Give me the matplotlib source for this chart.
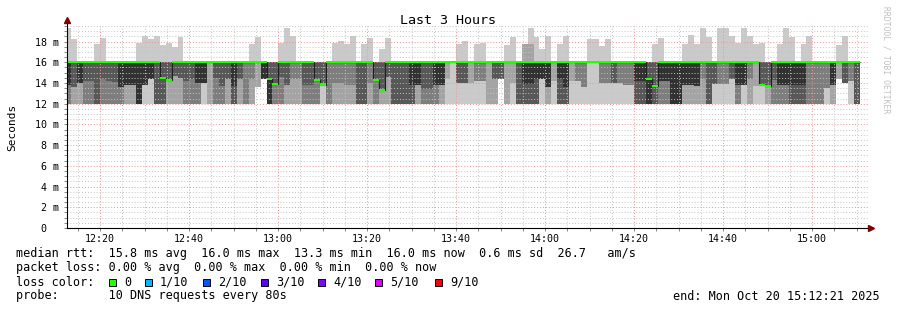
import numpy as np
import matplotlib.pyplot as plt
from matplotlib.ticker import MultipleLocator, FuncFormatter
from matplotlib.patches import Rectangle

plt.rcParams['font.family'] = 'DejaVu Sans Mono'

# SmokePing DNS probe, one value every 80 s, all values in ms
step_s = 80
first_step_end = 44005          # 12:13:25 (seconds since midnight)
view_start, view_end = 43955, 54755   # 12:12:35 .. 15:12:35

# highest ping of each step
top_ms = [
    19.3, 18.2, 16.0, 16.0, 16.0, 17.8, 18.35, 16.0, 16.0, 16.0,
    16.0, 16.0, 17.9, 18.5, 18.25, 18.5, 17.7, 17.9, 17.5, 18.4,
    16.0, 16.0, 16.0, 16.0, 16.0, 16.0, 16.0, 16.0, 16.0, 16.0,
    16.0, 17.8, 18.4, 16.0, 16.0, 16.0, 17.9, 19.3, 18.5, 16.0,
    16.0, 16.0, 16.0, 16.0, 16.0, 17.9, 18.1, 17.8, 18.5, 16.0,
    17.8, 18.35, 16.0, 17.3, 18.35, 16.0, 16.0, 16.0, 16.0, 16.0,
    16.0, 16.0, 16.0, 16.0, 16.0, 16.0, 17.8, 18.1, 16.0, 17.8,
    17.9, 16.0, 16.0, 16.0, 17.7, 18.4, 16.0, 17.8, 19.3, 18.4,
    17.3, 18.5, 16.0, 17.8, 18.5, 16.0, 16.0, 16.0, 18.2, 18.2,
    17.6, 18.2, 16.0, 16.0, 16.0, 16.0, 16.0, 16.0, 16.0, 17.8,
    18.3, 16.0, 16.0, 16.0, 17.8, 18.6, 17.8, 19.3, 18.4, 16.0,
    19.3, 19.3, 18.5, 17.9, 19.3, 18.5, 17.8, 17.9, 16.0, 16.0,
    17.8, 19.3, 18.4, 16.0, 17.8, 18.5, 16.0, 16.0, 16.0, 16.0,
    17.7, 18.5, 16.0, 16.0,
]

# second highest ping (start of the light top smoke)
upper9_ms = [16.0] * 77 + [17.8, 17.8] + [16.0] * 55

median_ms = [
    16.0, 16.0, 16.0, 16.0, 16.0, 16.0, 16.0, 16.0, 16.0, 16.0,
    16.0, 16.0, 16.0, 16.0, 16.0, 16.0, 14.5, 14.3, 16.0, 16.0,
    16.0, 16.0, 16.0, 16.0, 16.0, 16.0, 16.0, 16.0, 16.0, 16.0,
    16.0, 16.0, 16.0, 16.0, 14.4, 13.9, 16.0, 16.0, 16.0, 16.0,
    16.0, 16.0, 14.3, 13.85, 16.0, 16.0, 16.0, 16.0, 16.0, 16.0,
    16.0, 16.0, 14.3, 13.3, 16.0, 16.0, 16.0, 16.0, 16.0, 16.0,
    16.0, 16.0, 16.0, 16.0, 16.0, 16.0, 16.0, 16.0, 16.0, 16.0,
    16.0, 16.0, 16.0, 16.0, 16.0, 16.0, 16.0, 16.0, 16.0, 16.0,
    16.0, 16.0, 16.0, 16.0, 16.0, 16.0, 16.0, 16.0, 16.0, 16.0,
    16.0, 16.0, 16.0, 16.0, 16.0, 16.0, 16.0, 16.0, 14.4, 13.7,
    16.0, 16.0, 16.0, 16.0, 16.0, 16.0, 16.0, 16.0, 16.0, 16.0,
    16.0, 16.0, 16.0, 16.0, 16.0, 16.0, 16.0, 13.8, 13.7, 16.0,
    16.0, 16.0, 16.0, 16.0, 16.0, 16.0, 16.0, 16.0, 16.0, 16.0,
    16.0, 16.0, 16.0, 16.0,
]

# where the smoke below 16 ms changes shade
split_ms = [
    13.8, 13.6, 14.0, 14.2, 14.2, 12.0, 14.4, 14.2, 14.1, 13.6,
    13.8, 13.8, 12.0, 13.8, 14.4, 12.0, 14.5, 14.3, 14.7, 14.5,
    14.2, 14.4, 14.0, 14.0, 12.0, 14.5, 13.7, 14.4, 13.7, 14.4,
    12.0, 14.4, 13.6, 14.4, 14.4, 13.9, 14.6, 13.8, 14.4, 14.4,
    13.8, 13.8, 14.3, 13.85, 12.0, 14.0, 14.0, 13.8, 13.8, 12.0,
    12.0, 14.0, 14.3, 13.3, 14.6, 12.0, 12.0, 12.0, 13.8, 13.8,
    13.4, 13.4, 13.8, 13.8, 14.4, 12.0, 14.0, 14.0, 14.0, 14.2,
    14.2, 12.0, 14.4, 14.4, 12.0, 14.0, 12.0, 13.9, 13.9, 14.4,
    14.4, 13.6, 14.2, 14.4, 13.6, 14.2, 14.2, 13.6, 12.0, 14.4,
    14.0, 14.0, 14.0, 14.0, 13.8, 13.8, 14.2, 14.2, 14.4, 13.7,
    14.2, 14.2, 12.0, 12.0, 13.8, 13.8, 13.7, 14.4, 12.0, 13.9,
    13.9, 13.9, 14.4, 13.8, 13.8, 14.4, 13.7, 13.8, 13.7, 14.3,
    13.8, 13.8, 13.8, 13.8, 13.8, 12.0, 12.0, 12.0, 13.5, 13.8,
    14.4, 14.0, 14.2, 12.0,
]

# lowest ping of each step
low_ms = [
    12.0, 12.0, 12.0, 12.0, 12.0, 12.0, 12.0, 12.0, 12.0, 12.0,
    12.0, 12.0, 12.0, 12.0, 12.0, 12.0, 12.0, 12.0, 12.0, 12.0,
    12.0, 12.0, 12.0, 12.0, 12.0, 12.0, 12.0, 12.0, 12.0, 12.0,
    12.0, 12.0, 13.6, 14.4, 12.0, 12.0, 12.0, 12.0, 12.0, 12.0,
    12.0, 12.0, 12.0, 12.0, 12.0, 12.0, 12.0, 12.0, 12.0, 12.0,
    12.0, 12.0, 12.0, 12.0, 12.0, 12.0, 12.0, 12.0, 12.0, 12.0,
    12.0, 12.0, 12.0, 12.0, 12.0, 12.0, 12.0, 12.0, 12.0, 12.0,
    12.0, 12.0, 12.0, 14.4, 12.0, 12.0, 12.0, 12.0, 12.0, 12.0,
    12.0, 12.0, 12.0, 12.0, 12.0, 12.0, 12.0, 12.0, 12.0, 12.0,
    12.0, 12.0, 12.0, 12.0, 12.0, 12.0, 12.0, 12.0, 12.0, 12.0,
    12.0, 12.0, 12.0, 12.0, 12.0, 12.0, 12.0, 12.0, 12.0, 12.0,
    12.0, 12.0, 12.0, 12.0, 12.0, 12.0, 12.0, 12.0, 12.0, 12.0,
    12.0, 12.0, 12.0, 12.0, 12.0, 12.0, 12.0, 12.0, 12.0, 12.0,
    14.4, 14.0, 12.0, 12.0,
]

# smoke shade above / below the split (k darkest ... w lightest)
upper_shade = ("kdkddddddk" "kkkkkddddd" "ddkkldddkd" "mmlkddddmm" "ddddmmmmmd"
               "dmddddddkk" "ddkklwddlm" "mlddlldkkk" "kklkklmmww" "mmdmmmkkdd"
               "kkkkkkkmdd" "mmdkkmlddd" "kkkkkmmmmk" "ldmd")
lower_shade = ("mllmmdmmmm" "llkwwddlll" "mmmwlmmldl" "mllkkmmlll" "mmmwmlllld"
               "dlmllddddl" "mmmlwwwwww" "wllllwdddd" "wlwddwwwww" "wwwwwwddkd"
               "mmkklllldw" "wwwmwlwwlm" "mmdddmmmwl" "ldwd")

loss_labels = ["0", "1/10", "2/10", "3/10", "4/10", "5/10", "9/10"]
loss_colors = ["#26ff00", "#00b8ff", "#0059ff", "#5e00ff", "#7e00ff", "#dd00ff", "#ff0000"]

shades = {"k": "#323232", "d": "#585858", "m": "#7e7e7e", "l": "#a4a4a4", "w": "#cacaca"}

top = np.array(top_ms)
p9 = np.array(upper9_ms)
med = np.array(median_ms)
split = np.array(split_ms)
low = np.array(low_ms)
n = len(top)
ends = first_step_end + step_s * np.arange(n)
starts = ends - step_s

W, H = 897, 310
fig = plt.figure(figsize=(W / 100, H / 100), dpi=100)
ax = fig.add_axes([67 / W, 1 - 228 / H, (868 - 67) / W, (228 - 26) / H])

# smoke
kw = dict(width=step_s, align="edge", linewidth=0, antialiased=False, zorder=1)
ax.bar(starts, top - 16.0, bottom=16.0, color="#cacaca", **kw)
ax.bar(starts, p9 - 16.0, bottom=16.0, color="#a4a4a4", **kw)
ax.bar(starts, 16.0 - split, bottom=split, color=[shades[c] for c in upper_shade], **kw)
ax.bar(starts, np.clip(split - low, 0, None), bottom=low,
       color=[shades[c] for c in lower_shade], **kw)

# median: dark step line plus loss coloured band
edges = np.append(starts, ends[-1])
ax.stairs(med, edges, baseline=None, color="#202020", lw=0.8, zorder=3)
ax.bar(starts, 0.2, bottom=med - 0.1, color=loss_colors[0], width=step_s, align="edge",
       linewidth=0, antialiased=False, zorder=4)

ax.set_xlim(view_start, view_end)
ax.set_ylim(0, 19.5)

ax.xaxis.set_major_locator(MultipleLocator(1200))
ax.xaxis.set_minor_locator(MultipleLocator(300))
ax.yaxis.set_major_locator(MultipleLocator(2))
ax.yaxis.set_minor_locator(MultipleLocator(0.5))
ax.xaxis.set_major_formatter(FuncFormatter(lambda v, p: f"{int(v // 3600):02d}:{int(v % 3600 // 60):02d}"))
ax.yaxis.set_major_formatter(FuncFormatter(lambda v, p: "0  " if abs(v) < 1e-9 else f"{v:.0f} m"))

ax.set_axisbelow(False)
ax.grid(which="minor", color="#c4c4c4", lw=0.7, linestyle=(0, (1, 2)))
ax.grid(which="major", color="#f09090", lw=0.7, linestyle=(0, (1, 2)))

ax.tick_params(which="both", direction="out", length=2, width=0.7, color="#888888",
               labelsize=7.2, pad=2)
ax.tick_params(axis="y", pad=4)

for s in ["top", "right", "left", "bottom"]:
    ax.spines[s].set_visible(False)
ax.plot([0, 0], [0, 1.03], transform=ax.transAxes, color="#000000", lw=0.8, clip_on=False, zorder=5)
ax.plot([0, 1.002], [0, 0], transform=ax.transAxes, color="#000000", lw=0.8, clip_on=False, zorder=5)
ax.plot([0], [1.03], marker="^", ms=4, color="#7f0000", transform=ax.transAxes, clip_on=False, zorder=6)
ax.plot([1.004], [0], marker=">", ms=4, color="#7f0000", transform=ax.transAxes, clip_on=False, zorder=6)

def px(x, y):
    return x / W, 1 - y / H

fig.text(*px(448, 20), "Last 3 Hours", ha="center", va="center", fontsize=9.6)
fig.text(*px(12, 127), "Seconds", rotation=90, ha="center", va="center", fontsize=8)
fig.text(*px(886, 60), "RRDTOOL / TOBI OETIKER", rotation=270, ha="center", va="center",
         fontsize=5.8, color="#c0c0c0")

fs = 8.45
fig.text(*px(16, 254), "median rtt:  15.8 ms avg  16.0 ms max  13.3 ms min  16.0 ms now  0.6 ms sd  26.7   am/s",
         va="center", fontsize=fs)
fig.text(*px(16, 268), "packet loss: 0.00 % avg  0.00 % max  0.00 % min  0.00 % now",
         va="center", fontsize=fs)
fig.text(*px(16, 282), "loss color:", va="center", fontsize=fs)
label_x = [124, 160, 218, 276, 333, 390, 450]
for lx, lab, col in zip(label_x, loss_labels, loss_colors):
    fig.add_artist(Rectangle(px(lx - 15, 285.5), 7 / W, 7 / H, transform=fig.transFigure,
                             facecolor=col, edgecolor="#000000", lw=0.7))
    fig.text(*px(lx, 282), lab, va="center", fontsize=fs)
fig.text(*px(16, 296), "probe:       10 DNS requests every 80s", va="center", fontsize=fs)
fig.text(*px(880, 296), "end: Mon Oct 20 15:12:21 2025", ha="right", va="center", fontsize=fs)

fig.savefig("out.png", dpi=100)
